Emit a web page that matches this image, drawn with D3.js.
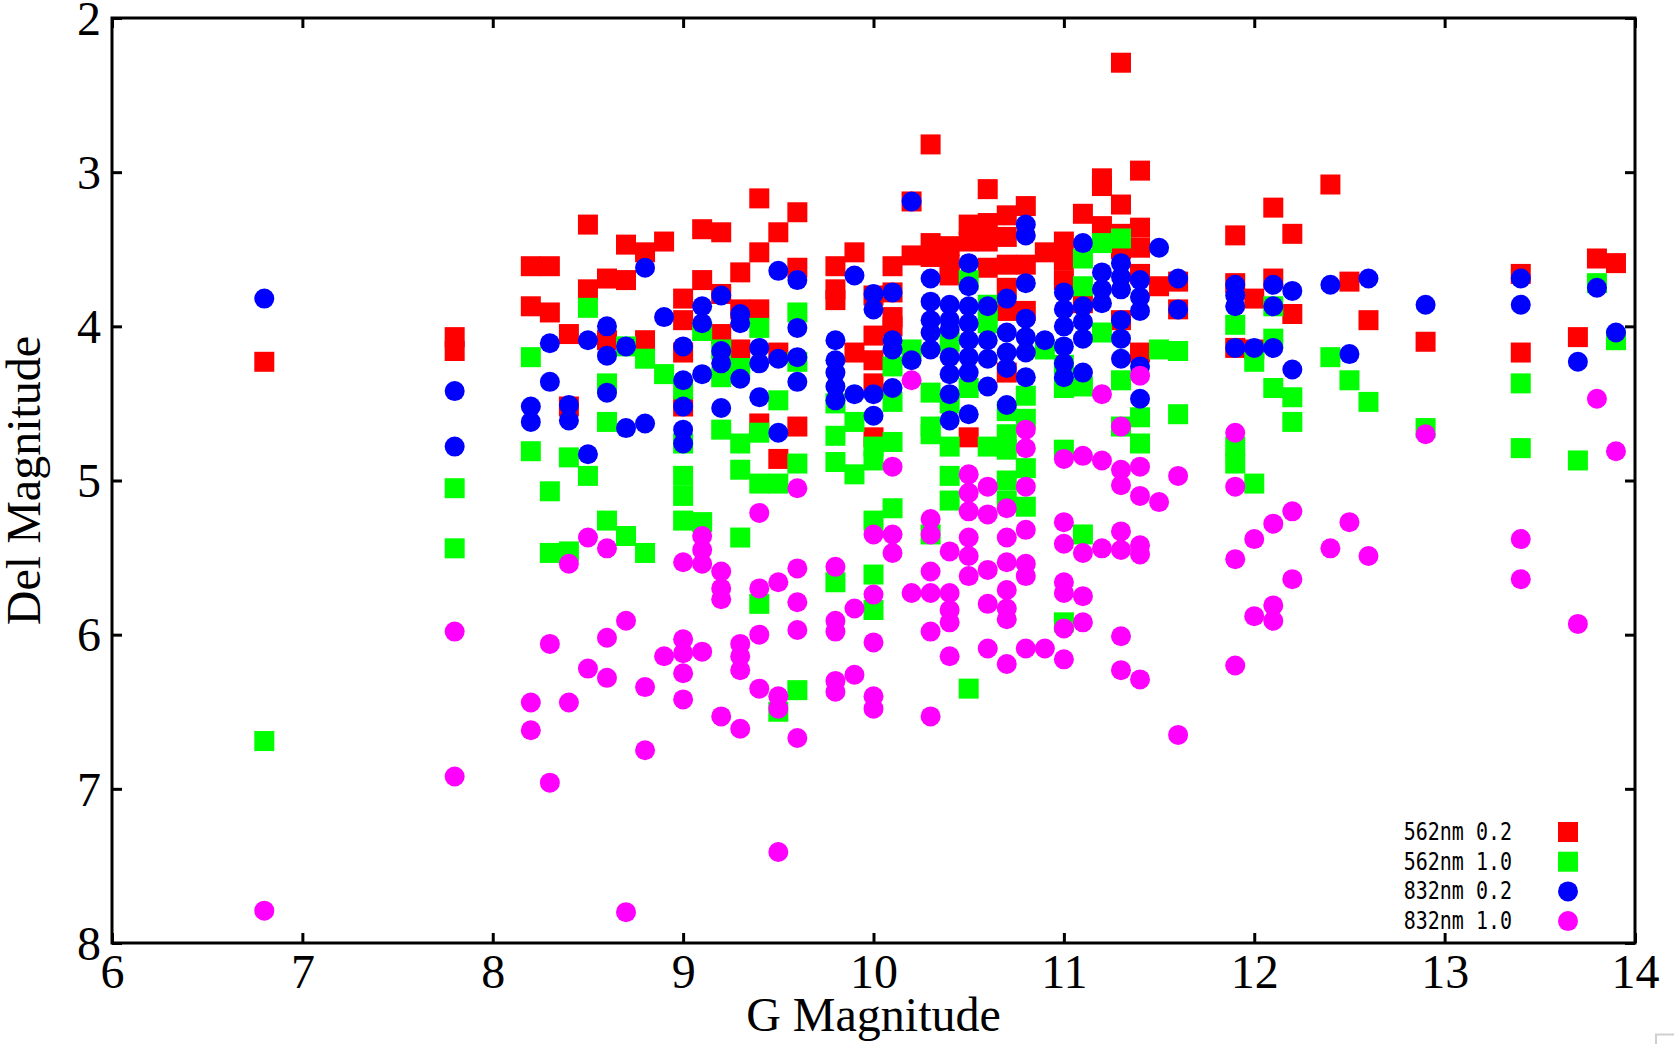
<!DOCTYPE html>
<html>
<head>
<meta charset="utf-8">
<script src="https://cdn.jsdelivr.net/npm/d3@7"></script>
<style>
  body { margin: 0; background: #fff; }
  svg { display: block; }
</style>
</head>
<body>
<svg id="chart" width="1674" height="1044"></svg>
<script>
// data: [G magnitude, [Del magnitudes at that G]]
let red562_02 = [
  [6.8,[4.23]], [7.8,[4.07,4.16]], [8.2,[3.61,3.87]], [8.3,[3.61,3.91]], [8.4,[4.05,4.52]],
  [8.5,[3.34,3.76]], [8.6,[3.69,4.09]], [8.7,[3.47,3.70]], [8.8,[3.52,4.09]], [8.9,[3.45]],
  [9.0,[3.82,3.96,4.17,4.52]], [9.1,[3.37,3.70]], [9.2,[3.39,3.79,4.05]], [9.3,[3.65,3.89,4.15]],
  [9.4,[3.17,3.52,3.89,4.63]], [9.5,[3.39,4.17,4.86]], [9.6,[3.26,3.62,4.65]], [9.8,[3.61,3.76,3.83]],
  [9.9,[3.52,4.17]], [10.0,[3.80,4.06,4.22,4.37,4.72]], [10.1,[3.61,3.78,3.94,4.00]], [10.2,[3.19,3.54]],
  [10.3,[2.82,3.46,3.55]], [10.4,[3.48,3.60,3.67]], [10.5,[3.34,3.45,4.72]], [10.6,[3.11,3.33,3.45,3.62]],
  [10.7,[3.28,3.42,3.60,3.75,3.90,4.30]], [10.8,[3.22,3.60,3.90]], [10.9,[3.52]], [11.0,[3.45,3.57,3.70]],
  [11.1,[3.27,3.85]], [11.2,[3.04,3.09,3.35]], [11.3,[2.29,3.21,3.40,3.50,3.96]], [11.4,[2.99,3.36,3.49,3.66,4.17]],
  [11.5,[3.74]], [11.6,[3.71,3.89]], [11.9,[3.41,3.72,4.14]], [12.0,[3.82,4.15]], [12.1,[3.23,3.69]],
  [12.2,[3.40,3.92]], [12.4,[3.08]], [12.5,[3.71]], [12.6,[3.96]], [12.9,[4.10]], [13.4,[3.66,4.17]],
  [13.7,[4.07]], [13.8,[3.56]], [13.9,[3.59]]
]

let green562_10 = [
  [6.8,[6.69]], [7.8,[5.05,5.44]], [8.2,[4.20,4.81]], [8.3,[5.07,5.47]], [8.4,[4.85,5.46]],
  [8.5,[3.88,4.97]], [8.6,[4.37,4.62,5.26]], [8.7,[4.13,5.36]], [8.8,[4.21,5.47]], [8.9,[4.31]],
  [9.0,[4.41,4.76,4.97,5.10,5.26]], [9.1,[4.03,5.27]], [9.2,[4.15,4.33,4.67]], [9.3,[4.27,4.76,4.93,5.37]],
  [9.4,[4.01,4.69,5.02,5.80]], [9.5,[4.48,5.02,6.50]], [9.6,[3.91,4.23,4.89,6.36]], [9.8,[4.50,4.71,4.88,5.66]],
  [9.9,[4.62,4.96]], [10.0,[4.78,4.87,5.26,5.61,5.84]], [10.1,[4.26,4.49,4.75,5.18]], [10.2,[4.15]],
  [10.3,[4.43,4.65,4.70,5.35]], [10.4,[4.10,4.50,4.78,4.97,5.13]], [10.5,[3.70,4.40,6.35]], [10.6,[3.86,3.98,4.78]],
  [10.7,[4.55,4.70,4.80,5.00,5.13]], [10.8,[4.45,4.60,4.92,5.17]], [10.9,[4.15]], [11.0,[4.25,4.40,4.80,5.92]],
  [11.1,[3.56,3.74,4.39,5.35]], [11.2,[3.46,4.04]], [11.3,[3.43,4.35,4.65]], [11.4,[4.59,4.76]],
  [11.5,[4.15]], [11.6,[4.16,4.57]], [11.9,[3.99,4.78,4.89]], [12.0,[4.23,5.02]], [12.1,[3.87,4.08,4.40]],
  [12.2,[4.46,4.62]], [12.4,[4.20]], [12.5,[4.35]], [12.6,[4.49]], [12.9,[4.66]], [13.4,[4.37,4.79]],
  [13.7,[4.87]], [13.8,[3.72]], [13.9,[4.09]]
]

let blue832_02 = [
  [6.8,[3.82]], [7.8,[4.42,4.78]], [8.2,[4.52,4.62]], [8.3,[4.11,4.36]], [8.4,[4.51,4.61]],
  [8.5,[4.09,4.83]], [8.6,[4.00,4.19,4.43]], [8.7,[4.13,4.66]], [8.8,[3.62,4.63]], [8.9,[3.94]],
  [9.0,[4.13,4.35,4.52,4.67,4.76]], [9.1,[3.87,3.98,4.31]], [9.2,[3.80,4.16,4.24,4.53]], [9.3,[3.92,3.98,4.34]],
  [9.4,[4.14,4.24,4.46]], [9.5,[3.64,4.21,4.69]], [9.6,[3.70,4.01,4.20,4.36]], [9.8,[4.09,4.22,4.30,4.39,4.48]],
  [9.9,[3.67,4.44]], [10.0,[3.79,3.89,4.44,4.58]], [10.1,[3.78,4.09,4.15,4.40]], [10.2,[3.19,4.22]],
  [10.3,[3.69,3.84,3.96,4.04,4.15]], [10.4,[3.86,3.96,4.02,4.20,4.31,4.44,4.61]],
  [10.5,[3.59,3.74,3.87,3.98,4.09,4.20,4.30,4.57]], [10.6,[3.87,4.09,4.21,4.39]],
  [10.7,[3.82,4.04,4.17,4.27,4.51]], [10.8,[3.34,3.41,3.72,3.95,4.07,4.17,4.33]], [10.9,[4.09]],
  [11.0,[3.78,3.89,4.00,4.13,4.24,4.33]], [11.1,[3.46,3.87,3.97,4.08,4.30]], [11.2,[3.65,3.76,3.85]],
  [11.3,[3.59,3.68,3.76,3.96,4.08,4.21]], [11.4,[3.70,3.81,3.90,4.26,4.47]], [11.5,[3.49]], [11.6,[3.69,3.89]],
  [11.9,[3.73,3.80,3.87,4.14]], [12.0,[4.14]], [12.1,[3.73,3.87,4.14]], [12.2,[3.77,4.28]], [12.4,[3.73]],
  [12.5,[4.18]], [12.6,[3.69]], [12.9,[3.86]], [13.4,[3.69,3.86]], [13.7,[4.23]], [13.8,[3.75]], [13.9,[4.04]]
]

let magenta832_10 = [
  [6.8,[7.79]], [7.8,[5.98,6.92]], [8.2,[6.44,6.62]], [8.3,[6.06,6.96]], [8.4,[5.54,6.44]],
  [8.5,[5.37,6.22]], [8.6,[5.44,6.02,6.28]], [8.7,[5.91,7.80]], [8.8,[6.34,6.75]], [8.9,[6.14]],
  [9.0,[5.53,6.03,6.12,6.25,6.42]], [9.1,[5.36,5.45,5.54,6.11]], [9.2,[5.59,5.70,5.77,6.53]],
  [9.3,[6.06,6.14,6.23,6.61]], [9.4,[5.21,5.70,6.00,6.35]], [9.5,[5.66,6.40,6.48,7.41]],
  [9.6,[5.05,5.57,5.79,5.97,6.67]], [9.8,[5.56,5.91,5.98,6.30,6.37]], [9.9,[5.83,6.26]],
  [10.0,[5.35,5.74,6.05,6.40,6.48]], [10.1,[4.91,5.35,5.47]], [10.2,[4.35,5.73]],
  [10.3,[5.25,5.35,5.59,5.73,5.98,6.53]], [10.4,[5.46,5.73,5.84,5.92,6.14]],
  [10.5,[4.96,5.08,5.20,5.37,5.49,5.62]], [10.6,[5.04,5.22,5.58,5.80,6.09]],
  [10.7,[5.18,5.37,5.53,5.71,5.83,5.90,6.19]], [10.8,[4.67,4.79,5.04,5.32,5.54,5.62,6.09]], [10.9,[6.09]],
  [11.0,[4.86,5.27,5.41,5.66,5.73,5.96,6.16]], [11.1,[4.84,5.47,5.75,5.92]], [11.2,[4.44,4.87,5.44]],
  [11.3,[4.65,4.93,5.03,5.33,5.45,6.01,6.23]], [11.4,[4.32,4.91,5.10,5.42,5.48,6.29]], [11.5,[5.14]],
  [11.6,[4.97,6.65]], [11.9,[4.69,5.04,5.51,6.20]], [12.0,[5.38,5.88]], [12.1,[5.28,5.81,5.91]],
  [12.2,[5.20,5.64]], [12.4,[5.44]], [12.5,[5.27]], [12.6,[5.49]], [12.9,[4.70]], [13.4,[5.38,5.64]],
  [13.7,[5.93]], [13.8,[4.47]], [13.9,[4.81]]
]

let seriesNames = ['562nm 0.2', '562nm 1.0', '832nm 0.2', '832nm 1.0']
let seriesColors = ['#ff0000', '#00ff00', '#0000ff', '#ff00ff']
let seriesShapes = ['square', 'square', 'circle', 'circle']
let seriesData = [red562_02, green562_10, blue832_02, magenta832_10]

let xTicks = [6, 7, 8, 9, 10, 11, 12, 13, 14]
let yTicks = [2, 3, 4, 5, 6, 7, 8]

// flatten [g, [dels]] columns into points
let flatten = (cols) => {
  let pts = []
  cols.forEach((c) => {
    c[1].forEach((d) => pts.push({ g: c[0], del: d }))
  })
  return pts
}

let svg = d3.select('#chart')
let plotLeft = 112, plotRight = 1635, plotTop = 18, plotBottom = 943

let x = d3.scaleLinear().domain([6, 14]).range([plotLeft, plotRight])
let y = d3.scaleLinear().domain([2, 8]).range([plotTop, plotBottom])

svg.append('rect').attr('width', 1674).attr('height', 1044).attr('fill', '#fff')

// markers, drawn in series order (later series on top)
let size = 20
seriesData.forEach((cols, i) => {
  let g = svg.append('g').attr('fill', seriesColors[i])
  let pts = flatten(cols)
  if (seriesShapes[i] === 'square') {
    g.selectAll('rect').data(pts).enter().append('rect')
      .attr('x', (p) => x(p.g) - size / 2)
      .attr('y', (p) => y(p.del) - size / 2)
      .attr('width', size)
      .attr('height', size)
  } else {
    g.selectAll('circle').data(pts).enter().append('circle')
      .attr('cx', (p) => x(p.g))
      .attr('cy', (p) => y(p.del))
      .attr('r', size / 2)
  }
})

// axes with inward ticks on all four sides
let styleAxis = (sel) => {
  sel.select('.domain').remove()
  sel.selectAll('.tick line').attr('stroke', '#000').attr('stroke-width', 3)
  sel.selectAll('text')
    .attr('fill', '#000')
    .style('font-family', '"Liberation Serif", "Times New Roman", serif')
    .style('font-size', '48px')
}

let bottomAxis = svg.append('g').attr('transform', 'translate(0,' + plotBottom + ')')
  .call(d3.axisBottom(x).tickValues(xTicks).tickFormat(d3.format('d')).tickSizeInner(-10).tickSizeOuter(0))
bottomAxis.call(styleAxis)
bottomAxis.selectAll('text').attr('y', 45).attr('dy', 0)

let leftAxis = svg.append('g').attr('transform', 'translate(' + plotLeft + ',0)')
  .call(d3.axisLeft(y).tickValues(yTicks).tickFormat(d3.format('d')).tickSizeInner(-10).tickSizeOuter(0))
leftAxis.call(styleAxis)
leftAxis.selectAll('text').attr('x', -11).attr('dy', '0.34em')

let topAxis = svg.append('g').attr('transform', 'translate(0,' + plotTop + ')')
  .call(d3.axisTop(x).tickValues(xTicks).tickFormat('').tickSizeInner(-10).tickSizeOuter(0))
topAxis.call(styleAxis)

let rightAxis = svg.append('g').attr('transform', 'translate(' + plotRight + ',0)')
  .call(d3.axisRight(y).tickValues(yTicks).tickFormat('').tickSizeInner(-10).tickSizeOuter(0))
rightAxis.call(styleAxis)

// frame
svg.append('rect')
  .attr('x', plotLeft).attr('y', plotTop)
  .attr('width', plotRight - plotLeft).attr('height', plotBottom - plotTop)
  .attr('fill', 'none').attr('stroke', '#000').attr('stroke-width', 3)

// axis titles
svg.append('text')
  .attr('x', (plotLeft + plotRight) / 2).attr('y', 1031)
  .attr('text-anchor', 'middle')
  .style('font-family', '"Liberation Serif", "Times New Roman", serif')
  .style('font-size', '48px')
  .text('G Magnitude')

svg.append('text')
  .attr('transform', 'translate(40,' + (plotTop + plotBottom) / 2 + ') rotate(-90)')
  .attr('text-anchor', 'middle')
  .style('font-family', '"Liberation Serif", "Times New Roman", serif')
  .style('font-size', '48px')
  .text('Del Magnitude')

// legend
let legend = svg.append('g')
seriesNames.forEach((name, i) => {
  let cy = 832 + i * 29.7
  legend.append('text')
    .attr('transform', 'translate(1512,' + (cy + 8) + ') scale(1,1.22)')
    .attr('text-anchor', 'end')
    .style('font-family', '"DejaVu Sans Mono", monospace')
    .style('font-size', '20px')
    .text(name)
  if (seriesShapes[i] === 'square') {
    legend.append('rect')
      .attr('x', 1568 - size / 2).attr('y', cy - size / 2)
      .attr('width', size).attr('height', size)
      .attr('fill', seriesColors[i])
  } else {
    legend.append('circle')
      .attr('cx', 1568).attr('cy', cy).attr('r', size / 2)
      .attr('fill', seriesColors[i])
  }
})

// small grey corner mark at bottom right
svg.append('path')
  .attr('d', 'M1656,1044V1034.5H1674')
  .attr('fill', 'none').attr('stroke', '#d0d0d0').attr('stroke-width', 2)
</script>
</body>
</html>
